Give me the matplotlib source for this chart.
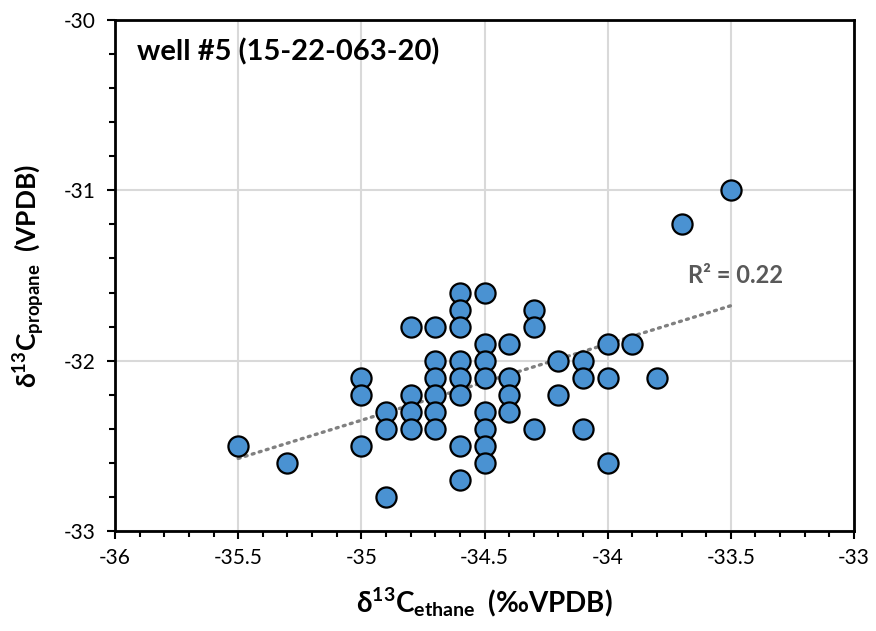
import numpy as np
import matplotlib
matplotlib.use('Agg')
import matplotlib.pyplot as plt
from matplotlib.ticker import MultipleLocator

plt.rcParams['font.family'] = ['Lato', 'DejaVu Sans']
plt.rcParams['mathtext.fontset'] = 'custom'
plt.rcParams['mathtext.rm'] = 'Lato'
plt.rcParams['mathtext.bf'] = 'Lato:bold'
plt.rcParams['mathtext.it'] = 'Lato:italic'

# d13C ethane / propane, well #5
ethane = [-35.5, -35.3, -35.0, -35.0, -35.0, -34.9, -34.9, -34.9,
          -34.8, -34.8, -34.8, -34.8, -34.7, -34.7, -34.7, -34.7, -34.7, -34.7,
          -34.6, -34.6, -34.6, -34.6, -34.6, -34.6, -34.6, -34.6,
          -34.5, -34.5, -34.5, -34.5, -34.5, -34.5, -34.5, -34.5,
          -34.4, -34.4, -34.4, -34.4, -34.3, -34.3, -34.3,
          -34.2, -34.2, -34.1, -34.1, -34.1, -34.0, -34.0, -34.0,
          -33.9, -33.8, -33.7, -33.5]
propane = [-32.5, -32.6, -32.1, -32.2, -32.5, -32.3, -32.4, -32.8,
           -31.8, -32.2, -32.3, -32.4, -31.8, -32.0, -32.1, -32.2, -32.3, -32.4,
           -31.6, -31.7, -31.8, -32.0, -32.1, -32.2, -32.5, -32.7,
           -31.6, -31.9, -32.0, -32.1, -32.3, -32.4, -32.5, -32.6,
           -31.9, -32.1, -32.2, -32.3, -31.7, -31.8, -32.4,
           -32.0, -32.2, -32.0, -32.1, -32.4, -31.9, -32.1, -32.6,
           -31.9, -32.1, -31.2, -31.0]
r2_label = 'R² = 0.22'
title = 'well #5 (15-22-063-20)'

x = np.array(ethane)
y = np.array(propane)
slope, icpt = np.polyfit(x, y, 1)
xt = np.array([x.min(), x.max()])

fig = plt.figure(figsize=(8.76, 6.31), dpi=100)
ax = fig.add_axes([0.1313, 0.1585, 0.8436, 0.8098])

ax.grid(True, which='major', color='#d9d9d9', lw=1.5, zorder=0)
ax.plot(xt, slope * xt + icpt, color='#808080', lw=2.4, ls=(0, (0.6, 1.6)),
        dash_capstyle='round', zorder=2)
ax.scatter(x, y, s=210, c='#4a92d2', edgecolors='black', linewidths=1.6, zorder=3)

ax.set_xlim(-36, -33)
ax.set_ylim(-33, -30)
ax.xaxis.set_major_locator(MultipleLocator(0.5))
ax.xaxis.set_minor_locator(MultipleLocator(0.1))
ax.yaxis.set_major_locator(MultipleLocator(1))
ax.yaxis.set_minor_locator(MultipleLocator(0.2))
ax.xaxis.set_major_formatter(matplotlib.ticker.FuncFormatter(lambda v, p: f'{v:g}'))
ax.yaxis.set_major_formatter(matplotlib.ticker.FuncFormatter(lambda v, p: f'{v:g}'))
ax.tick_params(which='major', direction='out', length=6, width=1.5, labelsize=15,
               colors='black')
ax.tick_params(which='minor', direction='out', length=4, width=1.5)
ax.tick_params(axis='x', which='major', pad=6)
ax.tick_params(axis='y', which='major', pad=8)
for sp in ax.spines.values():
    sp.set_linewidth(2)
    sp.set_color('black')

ax.set_xlabel(r'$\mathbf{\delta^{13}C_{ethane}}$  (‰VPDB)', fontsize=20,
              fontweight='bold', labelpad=13)
ax.set_ylabel(r'$\mathbf{\delta^{13}C_{propane}}$  (VPDB)', fontsize=19,
              fontweight='bold', labelpad=12)

ax.text(0.03, 0.965, title, transform=ax.transAxes, fontsize=21,
        fontweight='bold', ha='left', va='top')
ax.text(-33.675, -31.5, r2_label, fontsize=17, fontweight='bold',
        color='#595959', ha='left', va='center')

fig.savefig('out.png', dpi=100)
